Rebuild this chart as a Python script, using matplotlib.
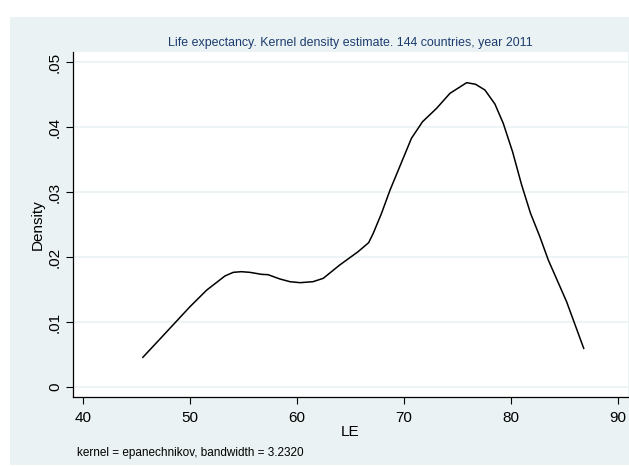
import matplotlib
matplotlib.use("Agg")
import matplotlib.pyplot as plt
from matplotlib.patches import Rectangle

# kernel density estimate of life expectancy
le = [45.6, 47.35, 50.0, 51.56, 53.27, 54.05, 54.8, 55.6, 56.7, 57.3, 58.4,
      59.35, 60.3, 61.5, 62.46, 64.0, 65.7, 66.7, 67.13, 67.9, 68.7, 69.8,
      70.7, 71.74, 73.05, 74.3, 75.86, 76.7, 77.57, 78.5, 79.28, 80.15, 81.0,
      81.83, 82.7, 83.49, 85.2, 86.8]
density = [0.00457, 0.00765, 0.01235, 0.0149, 0.01708, 0.01764, 0.01774,
           0.01764, 0.01733, 0.01728, 0.01662, 0.0162, 0.01605, 0.0162,
           0.01672, 0.01877, 0.0208, 0.0222, 0.02364, 0.0267, 0.0303, 0.03467,
           0.03826, 0.04082, 0.04287, 0.04518, 0.04682, 0.04657, 0.04569,
           0.04354, 0.04057, 0.0362, 0.03108, 0.02672, 0.02313, 0.01954,
           0.01313, 0.00595]

xticks = [40, 50, 60, 70, 80, 90]
yticks = [0, 0.01, 0.02, 0.03, 0.04, 0.05]
ytick_labels = ["0", ".01", ".02", ".03", ".04", ".05"]

title = "Life expectancy. Kernel density estimate. 144 countries, year 2011"
note = "kernel = epanechnikov, bandwidth = 3.2320"

plt.rcParams['font.family'] = ['Liberation Sans', 'DejaVu Sans']
panel = '#eaf2f3'
W, H = 629, 466

fig = plt.figure(figsize=(W / 100, H / 100), dpi=100)
fig.patch.set_facecolor('white')
fig.patches.append(Rectangle((10 / W, 1 / H), 619 / W, 448 / H,
                             transform=fig.transFigure, facecolor=panel,
                             edgecolor='none', zorder=-10))

ax = fig.add_axes([73 / W, (H - 397) / H, 555 / W, 345 / H])
ax.set_facecolor('white')
ax.plot(le, density, color='black', lw=1.1)

ax.set_xlim(39.07, 90.94)
ax.set_ylim(-0.00154, 0.05154)
ax.set_xticks(xticks)
ax.set_yticks(yticks)
ax.set_yticklabels(ytick_labels, rotation=90, va='center')
ax.tick_params(axis='both', length=5, width=0.8, labelsize=11, pad=3)
ax.tick_params(axis='x', pad=5)
ax.grid(axis='y', color=panel, lw=1.2)
ax.set_axisbelow(True)

for s in ['top', 'right']:
    ax.spines[s].set_visible(False)
for s in ['left', 'bottom']:
    ax.spines[s].set_linewidth(0.9)

ax.set_ylabel("Density", fontsize=11, labelpad=2)
ax.set_xlabel("LE", fontsize=11, labelpad=0)
ax.set_title(title, fontsize=8.9, color='#1c3c6e', pad=4)
fig.text(77 / W, 1 - 453 / H, note, fontsize=8.5, va='center', ha='left')

fig.savefig("out.png", dpi=100)
